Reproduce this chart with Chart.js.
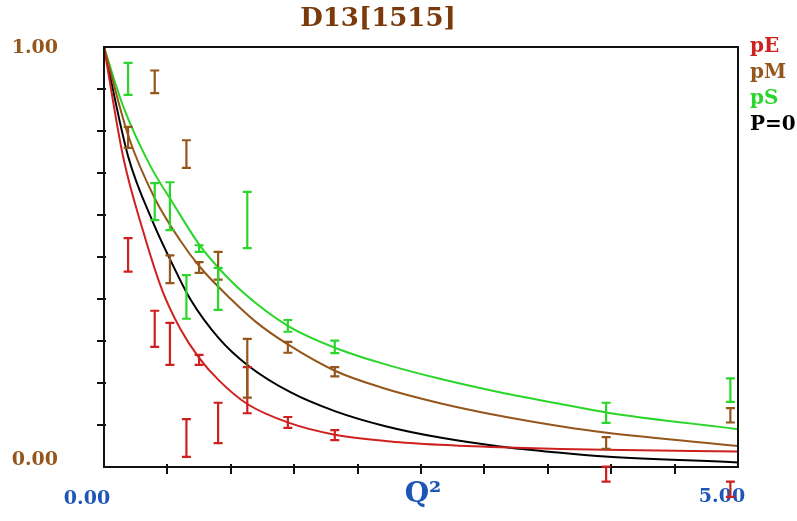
<!DOCTYPE html>
<html>
<head>
<meta charset="utf-8">
<title>D13[1515]</title>
<script src="https://cdn.jsdelivr.net/npm/chart.js@4.4.0/dist/chart.umd.min.js"></script>
<style>
    html, body { margin: 0; padding: 0; background: #fff; }
    #wrap { width: 797px; height: 521px; }
</style>
</head>
<body>
<div id="wrap"><canvas id="chart" width="797" height="521"></canvas></div>
<script>
// Data

// measured points (shared Q2 positions)
const pointQ2 = [0.19, 0.40, 0.52, 0.65, 0.75, 0.90, 1.13, 1.45, 1.82, 3.96, 4.94];

const pEValues = [0.505, 0.329, 0.293, 0.069, 0.255, 0.105, 0.183, 0.106, 0.076, -0.017, -0.053];
const pEErrors = [0.040, 0.043, 0.050, 0.045, 0.012, 0.048, 0.055, 0.013, 0.012, 0.018, 0.018];

const pMValues = [0.785, 0.917, 0.471, 0.745, 0.475, 0.479, 0.235, 0.285, 0.227, 0.057, 0.123];
const pMErrors = [0.025, 0.027, 0.033, 0.033, 0.013, 0.033, 0.070, 0.013, 0.011, 0.014, 0.017];

const pSValues = [0.924, 0.632, 0.621, 0.405, 0.520, 0.424, 0.588, 0.336, 0.286, 0.129, 0.183];
const pSErrors = [0.038, 0.044, 0.057, 0.052, 0.008, 0.050, 0.067, 0.014, 0.015, 0.024, 0.028];

// model curves
const pECurveQ2 = [0, 0.15, 0.31, 0.46, 0.60, 0.75, 0.91, 1.13, 1.46, 1.82, 2.26, 2.65, 3.12, 3.60, 3.95, 5.00];
const pECurve   = [1, 0.740, 0.560, 0.420, 0.330, 0.260, 0.205, 0.150, 0.105, 0.077, 0.061, 0.053, 0.047, 0.043, 0.041, 0.037];

const pMCurveQ2 = [0, 0.19, 0.40, 0.60, 0.76, 1.00, 1.20, 1.45, 1.83, 2.18, 2.65, 3.12, 3.60, 3.95, 5.00];
const pMCurve   = [1, 0.790, 0.640, 0.540, 0.475, 0.400, 0.345, 0.292, 0.228, 0.190, 0.152, 0.122, 0.097, 0.082, 0.050];

const pSCurveQ2 = [0, 0.15, 0.36, 0.55, 0.75, 0.90, 1.10, 1.45, 1.82, 2.18, 2.65, 3.12, 3.60, 3.96, 5.00];
const pSCurve   = [1, 0.860, 0.720, 0.625, 0.530, 0.475, 0.415, 0.336, 0.284, 0.248, 0.210, 0.178, 0.150, 0.130, 0.090];

const p0CurveQ2 = [0, 0.19, 0.39, 0.52, 0.68, 0.91, 1.13, 1.47, 1.82, 2.22, 2.65, 3.12, 3.60, 3.95, 5.00];
const p0Curve   = [1, 0.740, 0.580, 0.495, 0.400, 0.305, 0.243, 0.178, 0.133, 0.097, 0.070, 0.049, 0.034, 0.025, 0.011];

// axis ticks and labels
const xTickValues = [0.5, 1.0, 1.5, 2.0, 2.5, 3.0, 3.5, 4.0, 4.5];
const yTickValues = [0.1, 0.2, 0.3, 0.4, 0.5, 0.6, 0.7, 0.8, 0.9];
const xTickLabels = ['0.00', '5.00'];
const yTickLabels = ['0.00', '1.00'];
const legendLabels = ['pE', 'pM', 'pS', 'P=0'];

const RED = '#cf2020';
const BROWN = '#95561c';
const GREEN = '#2ad62a';
const BLACK = '#000000';
const TITLE_BROWN = '#7a3a0c';
const BLUE = '#1c56b8';

function toXY(xs, ys) {
    return xs.map((x, i) => ({ x: x, y: ys[i] }));
}

function curveDataset(label, xs, ys, color) {
    return {
        label: label,
        type: 'line',
        data: toXY(xs, ys),
        borderColor: color,
        borderWidth: 2,
        pointRadius: 0,
        cubicInterpolationMode: 'monotone',
        fill: false
    };
}

function pointDataset(label, values, errors, color) {
    return {
        label: label,
        type: 'scatter',
        data: toXY(pointQ2, values),
        errors: errors,
        barColor: color,
        pointRadius: 0,
        showLine: false
    };
}

// error bars drawn through the scales
const errorBarPlugin = {
    id: 'errorBars',
    afterDraw(chart) {
        const ctx = chart.ctx;
        const yScale = chart.scales.y;
        ctx.save();
        chart.data.datasets.forEach((ds, di) => {
            if (!ds.errors) return;
            const meta = chart.getDatasetMeta(di);
            ctx.strokeStyle = ds.barColor;
            ctx.lineWidth = 2.2;
            meta.data.forEach((pt, i) => {
                const v = ds.data[i].y;
                const e = ds.errors[i];
                const top = yScale.getPixelForValue(v + e);
                const bot = yScale.getPixelForValue(v - e);
                const x = pt.x;
                ctx.beginPath();
                ctx.moveTo(x, top);
                ctx.lineTo(x, bot);
                ctx.moveTo(x - 4.5, top);
                ctx.lineTo(x + 4.5, top);
                ctx.moveTo(x - 4.5, bot);
                ctx.lineTo(x + 4.5, bot);
                ctx.stroke();
            });
        });
        ctx.restore();
    }
};

// frame, ticks, labels, title and legend
const framePlugin = {
    id: 'frame',
    afterDatasetsDraw(chart) {
        const ctx = chart.ctx;
        const area = chart.chartArea;
        const xs = chart.scales.x;
        const ys = chart.scales.y;
        ctx.save();

        ctx.strokeStyle = '#111';
        ctx.lineWidth = 2;
        ctx.strokeRect(area.left, area.top, area.right - area.left, area.bottom - area.top);

        ctx.beginPath();
        yTickValues.forEach(v => {
            const py = Math.round(ys.getPixelForValue(v));
            ctx.moveTo(area.left - 7, py);
            ctx.lineTo(area.left + 2, py);
        });
        xTickValues.forEach(v => {
            const px = Math.round(xs.getPixelForValue(v));
            ctx.moveTo(px, area.bottom - 3);
            ctx.lineTo(px, area.bottom + 7);
        });
        ctx.stroke();

        // y labels
        ctx.font = 'bold 19px "DejaVu Serif"';
        ctx.fillStyle = BROWN;
        ctx.textAlign = 'right';
        ctx.textBaseline = 'middle';
        ctx.fillText(yTickLabels[1], 58, ys.getPixelForValue(1) + 1);
        ctx.fillText(yTickLabels[0], 58, ys.getPixelForValue(0) - 7);

        // x labels
        ctx.fillStyle = BLUE;
        ctx.textAlign = 'center';
        ctx.fillText(xTickLabels[0], xs.getPixelForValue(0) - 17, 499);
        ctx.fillText(xTickLabels[1], xs.getPixelForValue(5) - 16, 497);
        ctx.font = 'bold 28px "DejaVu Serif"';
        ctx.fillText('Q\u00b2', 423, 495);

        // title
        ctx.font = 'bold 26px "DejaVu Serif"';
        ctx.fillStyle = TITLE_BROWN;
        ctx.fillText('D13[1515]', 378, 19);

        // legend
        const legendColors = [RED, BROWN, GREEN, BLACK];
        ctx.font = 'bold 20px "DejaVu Serif"';
        ctx.textAlign = 'left';
        legendLabels.forEach((t, i) => {
            ctx.fillStyle = legendColors[i];
            ctx.fillText(t, 750, 47 + i * 26);
        });

        ctx.restore();
    }
};

new Chart(document.getElementById('chart').getContext('2d'), {
    data: {
        datasets: [
            curveDataset('pE curve', pECurveQ2, pECurve, RED),
            curveDataset('pM curve', pMCurveQ2, pMCurve, BROWN),
            curveDataset('pS curve', pSCurveQ2, pSCurve, GREEN),
            curveDataset('P=0', p0CurveQ2, p0Curve, BLACK),
            pointDataset('pE', pEValues, pEErrors, RED),
            pointDataset('pM', pMValues, pMErrors, BROWN),
            pointDataset('pS', pSValues, pSErrors, GREEN)
        ]
    },
    options: {
        responsive: false,
        animation: false,
        layout: {
            padding: { left: 104, right: 59, top: 47, bottom: 54 }
        },
        scales: {
            x: { type: 'linear', min: 0, max: 5, display: false },
            y: { type: 'linear', min: 0, max: 1, display: false }
        },
        plugins: {
            legend: { display: false },
            title: { display: false },
            tooltip: { enabled: false }
        }
    },
    plugins: [framePlugin, errorBarPlugin]
});
</script>
</body>
</html>
